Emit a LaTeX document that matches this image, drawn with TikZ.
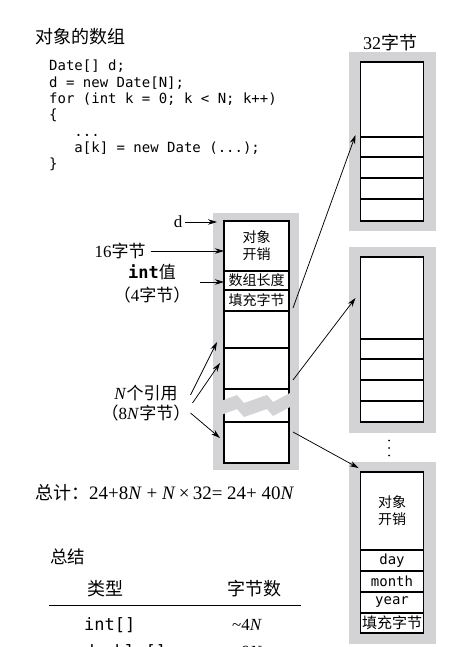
\documentclass[tikz,border=0pt]{standalone}
\usepackage{fontspec}
\usepackage{tikz}
\setmainfont{Liberation Serif}
\setmonofont{DejaVu Sans Mono}
\newfontfamily\cjk{Noto Sans CJK SC}
\definecolor{framegray}{RGB}{211, 211, 213}
\usetikzlibrary{arrows.meta, positioning, calc}

\begin{document}
\begin{tikzpicture}[
    x=1pt, y=-1pt,
    frame/.style={rectangle, fill=framegray, inner sep=0pt, outer sep=0pt},
    cell/.style={rectangle, draw, line width=1.8pt, fill=white, inner sep=0pt, outer sep=0pt, align=center, font=\cjk\fontsize{14}{17}\selectfont},
    arrcell/.style={cell, minimum width=65pt},
    objcell/.style={cell, minimum width=63pt},
    lbl/.style={inner sep=0pt, align=center, font=\fontsize{17}{20}\selectfont},
    ptr/.style={-{Stealth[length=9pt, width=5.5pt]}, line width=0.75pt}
]
    \useasboundingbox (0,0) rectangle (450,647);

    % title and code
    \node[lbl, anchor=west, font=\cjk\fontsize{18}{20}\selectfont] (title) at (35,37) {对象的数组};
    \node[anchor=north west, inner sep=0pt, align=left, font=\ttfamily\fontsize{14}{16.3}\selectfont] (code) at (49,60) {Date[] d;\\d = new Date[N];\\for (int k = 0; k < N; k++)\\\{\\\phantom{abc}...\\\phantom{abc}a[k] = new Date (...);\\\}};

    % array of references
    \node[frame, minimum width=86pt, minimum height=257pt] (arrframe) at (256,341.5) {};
    \node[arrcell, minimum height=50pt] (objhdr) at (256.5,246) {对象\\开销};
    \node[arrcell, minimum height=19pt] (arrlen) at (256.5,280.5) {数组长度};
    \node[arrcell, minimum height=21pt] (padding) at (256.5,300.5) {填充字节};
    \node[arrcell, minimum height=37pt] (ref1) at (256.5,329.5) {};
    \node[arrcell, minimum height=41pt] (ref2) at (256.5,368.5) {};
    \node[arrcell, minimum height=33pt] (refgap) at (256.5,405.5) {};
    \node[arrcell, minimum height=41pt] (refn) at (256.5,442.5) {};
    \fill[framegray] (221,401) -- (237,395) -- (244,403) -- (267,395) -- (273,402) -- (292,392) -- (292,406) -- (273,416) -- (267,409) -- (244,417) -- (237,409) -- (221,415) -- cycle;

    % Date objects
    \node[lbl, font=\fontsize{18}{20}\selectfont] (size32) at (390,43) {32{\cjk 字节}};
    \node[frame, minimum width=87pt, minimum height=179pt] (frame1) at (392.5,141.5) {};
    \node[objcell, minimum height=75pt] (o1a) at (392,99.5) {};
    \node[objcell, minimum height=20pt] (o1b) at (392,147) {};
    \node[objcell, minimum height=21pt] (o1c) at (392,167.5) {};
    \node[objcell, minimum height=21pt] (o1d) at (392,188.5) {};
    \node[objcell, minimum height=22pt] (o1e) at (392,210) {};

    \node[frame, minimum width=87pt, minimum height=186pt] (frame2) at (392.5,340) {};
    \node[objcell, minimum height=82pt] (o2a) at (392,298) {};
    \node[objcell, minimum height=20pt] (o2b) at (392,349) {};
    \node[objcell, minimum height=21pt] (o2c) at (392,369.5) {};
    \node[objcell, minimum height=21pt] (o2d) at (392,390.5) {};
    \node[objcell, minimum height=21pt] (o2e) at (392,411.5) {};

    \fill (389,440.5) circle (1pt) (389,448) circle (1pt) (389,455.5) circle (1pt);

    \node[frame, minimum width=87pt, minimum height=182pt] (frame3) at (392.5,553) {};
    \node[objcell, minimum height=78pt] (o3a) at (392,511) {对象\\开销};
    \node[objcell, minimum height=21pt, font=\ttfamily\fontsize{14}{17}\selectfont] (o3b) at (392,560.5) {day};
    \node[objcell, minimum height=21pt, font=\ttfamily\fontsize{14}{17}\selectfont] (o3c) at (392,581.5) {month};
    \node[objcell, minimum height=21pt, font=\ttfamily\fontsize{14}{17}\selectfont] (o3d) at (392,602.5) {year};
    \node[objcell, minimum height=20pt, font=\cjk\fontsize{15}{17}\selectfont] (o3e) at (392,623) {填充字节};

    % labels on the left
    \node[lbl] (d) at (178,222) {d};
    \node[lbl] (b16) at (120,251) {16{\cjk 字节}};
    \node[lbl, font=\fontsize{17}{23}\selectfont] (intlbl) at (152,283.5) {{\ttfamily\bfseries int}{\cjk 值}\\{\cjk （}4{\cjk 字节）}};
    \node[lbl] (nref) at (146,403) {\textit{N}{\cjk 个引用}\\{\cjk （}8\textit{N}{\cjk 字节）}};

    \draw[ptr] ([xshift=3pt]d.east) -- ([xshift=4pt]d -| arrframe.west);
    \draw[ptr] ([xshift=5pt]b16.east) -- (b16 -| objhdr.west);
    \draw[ptr] ([xshift=10pt,yshift=1.5pt]intlbl.east) -- ([yshift=1.5pt]intlbl.east -| arrlen.west);
    \draw[ptr] ([yshift=8pt]nref.east) -- ([shift={(-7pt,6pt)}]ref1.south west);
    \draw[ptr] ([xshift=2pt]nref.east) -- ([shift={(-4pt,5.5pt)}]ref2.west);
    \draw[ptr] ([yshift=-10pt]nref.east) -- ([shift={(-4pt,4.5pt)}]refn.west);

    % references to the objects
    \draw[ptr] ([shift={(4pt,3pt)}]ref1.north east) -- ([shift={(-5pt,2pt)}]o1a.south west);
    \draw[ptr] ([shift={(4pt,9pt)}]ref2.south east) -- ([xshift=-5pt]o2a.west);
    \draw[ptr] ([shift={(4pt,-10pt)}]refn.north east) -- ([shift={(-2pt,4pt)}]o3a.north west);

    % total and summary
    \node[lbl, anchor=west, font=\fontsize{19}{20}\selectfont] (total) at (35,493) {{\cjk\fontsize{18}{20}\selectfont 总计：}24+8\textit{N} + \textit{N}\,×\,32= 24+ 40\textit{N}};
    \node[lbl, anchor=west, font=\cjk\fontsize{17.5}{20}\selectfont] (summary) at (50,557) {总结};
    \node[lbl, font=\cjk\fontsize{18}{20}\selectfont] (typehd) at (105,589) {类型};
    \node[lbl, font=\cjk\fontsize{18}{20}\selectfont] (bytehd) at (254.5,589) {字节数};
    \draw[line width=1pt] (49,605) -- (301,605);
    \node[lbl, anchor=west, font=\ttfamily\fontsize{17}{20}\selectfont] (intarr) at (84,625) {int[]};
    \node[lbl] (intsize) at (247,625) {\textasciitilde 4\textit{N}};
    \node[lbl, anchor=west, font=\ttfamily\fontsize{17}{20}\selectfont] (dblarr) at (84,652) {double[]};
    \node[lbl] (dblsize) at (247,652) {\textasciitilde 8\textit{N}};
\end{tikzpicture}
\end{document}
